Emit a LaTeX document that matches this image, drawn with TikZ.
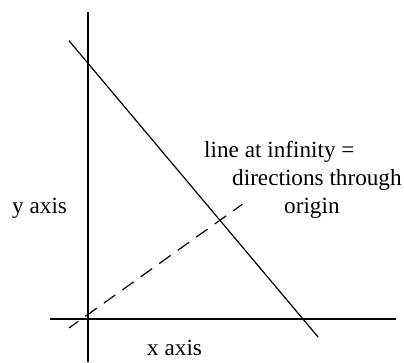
\documentclass[tikz,border=0pt]{standalone}
\usepackage{fontspec}
\setmainfont{Liberation Serif}
\begin{document}
\begin{tikzpicture}[x=1pt,y=-1pt,
  axisline/.style={line width=1.4pt},
  mainline/.style={line width=1.2pt},
  dirline/.style={line width=1.2pt,dash pattern=on 14pt off 8.7pt,dash phase=2.6pt},
  lbl/.style={font=\fontsize{23.2}{28}\selectfont,inner sep=0pt,anchor=base west}]
\useasboundingbox (0,0) rectangle (404,362);
\coordinate (ytop) at (88,12);
\coordinate (ybot) at (88,362);
\coordinate (xl) at (50,319);
\coordinate (xr) at (396,319);
\coordinate (la) at (69,40.7);
\coordinate (lb) at (318.3,337.3);
\coordinate (da) at (69,328);
\coordinate (db) at (242.3,204.3);
\draw[axisline] (ytop) -- (ybot);
\draw[axisline] (xl) -- (xr);
\draw[mainline] (la) -- (lb);
\draw[dirline] (da) -- (db);
\node[lbl] (t1) at (204,157) {line at infinity =};
\node[lbl] (t2) at (232,185) {directions through};
\node[lbl] (t3) at (284,213) {origin};
\node[lbl] (ya) at (12,213) {y axis};
\node[lbl] (xa) at (147,355) {x axis};
\end{tikzpicture}
\end{document}
